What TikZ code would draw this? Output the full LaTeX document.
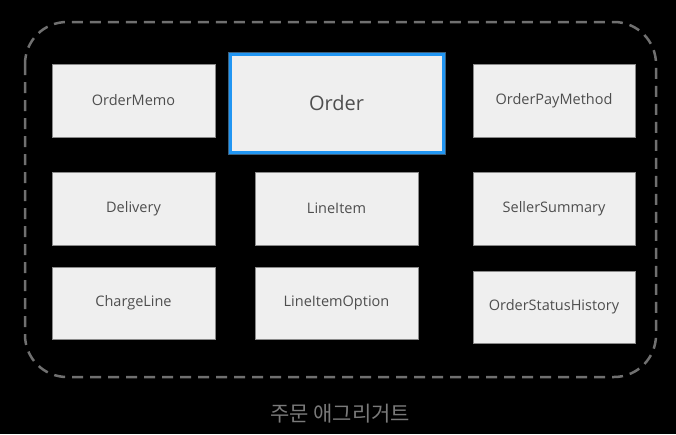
\documentclass[tikz,border=0pt]{standalone}
\usepackage{fontspec}
\setmainfont{Open Sans}
\newfontfamily\krfont{Noto Sans CJK KR}
\definecolor{boxfill}{HTML}{EFEFEF}
\definecolor{boxline}{HTML}{8A8A8A}
\definecolor{txt}{HTML}{4E4E4E}
\definecolor{dashcol}{HTML}{707070}
\definecolor{labelcol}{HTML}{7A7A7A}
\definecolor{blueline}{HTML}{2196F3}
\begin{document}
\begin{tikzpicture}[x=1pt,y=-1pt,
  ent/.style={draw=boxline,line width=1pt,fill=boxfill,text=txt,font=\fontsize{14.5}{17}\selectfont,inner sep=0pt},
  root/.style={draw=blueline,line width=3pt,fill=boxfill,text=txt,font=\fontsize{20}{24}\selectfont,inner sep=0pt}]
\fill[black] (0,0) rectangle (676,434);
\useasboundingbox (0,0) rectangle (676,434);
\draw[dashcol,line width=2.5pt,dash pattern=on 11pt off 7pt,rounded corners=42pt] (25,22) rectangle (656,377);
\node[ent,minimum width=163pt,minimum height=73pt] (memo) at (133.5,100.5) {OrderMemo};
\draw[blueline!60,line width=5pt,opacity=0.5] (230,54) rectangle (443,152);
\node[root,minimum width=213pt,minimum height=98pt] (order) at (336.5,103) {Order};
\node[ent,minimum width=162pt,minimum height=73pt] (pay) at (554,100.5) {OrderPayMethod};
\node[ent,minimum width=163pt,minimum height=73pt] (deliv) at (133.5,208.5) {Delivery};
\node[ent,minimum width=163pt,minimum height=73pt] (li) at (336.5,208.5) {LineItem};
\node[ent,minimum width=162pt,minimum height=73pt] (seller) at (554,208.5) {SellerSummary};
\node[ent,minimum width=163pt,minimum height=72pt] (charge) at (133.5,303) {ChargeLine};
\node[ent,minimum width=163pt,minimum height=72pt] (lio) at (336.5,303) {LineItemOption};
\node[ent,minimum width=162pt,minimum height=72pt] (hist) at (554,307) {OrderStatusHistory};
\node[text=labelcol,font=\krfont\fontsize{21}{24}\selectfont] (label) at (340,414) {주문 애그리거트};
\end{tikzpicture}
\end{document}
